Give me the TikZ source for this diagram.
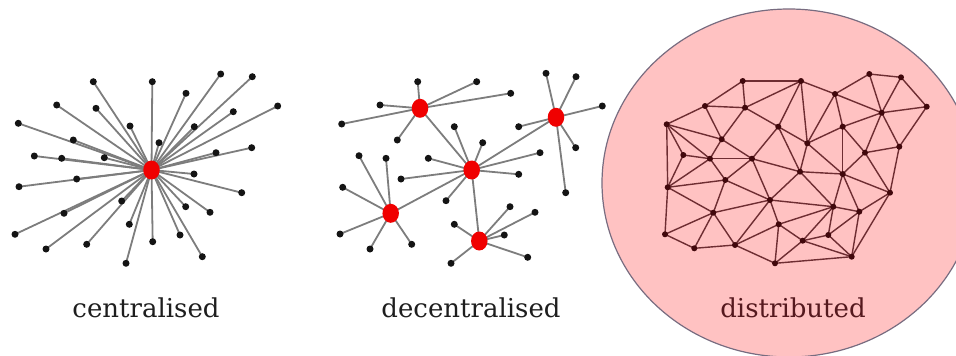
\documentclass[tikz,border=0pt]{standalone}
\usepackage{fontspec}
\setmainfont{DejaVu Serif}
\usetikzlibrary{shapes.geometric}
\pgfdeclarelayer{back}
\pgfdeclarelayer{edges}
\pgfsetlayers{back,edges,main}
\definecolor{hubred}{RGB}{240,0,0}
\definecolor{spokegray}{RGB}{125,125,125}
\definecolor{leafblack}{RGB}{20,20,20}
\definecolor{discfill}{RGB}{255,194,194}
\definecolor{discline}{RGB}{120,108,128}
\definecolor{meshnode}{RGB}{65,8,12}
\definecolor{meshline}{RGB}{110,45,50}
\definecolor{labelgray}{RGB}{30,30,30}
\definecolor{labelmaroon}{RGB}{85,25,30}
\tikzset{
  leaf/.style={circle, fill=leafblack, inner sep=0pt, minimum size=7pt},
  hub/.style={ellipse, fill=hubred, inner sep=0pt, minimum width=16.5pt, minimum height=19pt},
  spoke/.style={draw=spokegray, line width=1.8pt},
  mnode/.style={circle, fill=meshnode, inner sep=0pt, minimum size=6pt},
  medge/.style={draw=meshline, line width=1.4pt},
  caption/.style={font=\fontsize{26}{30}\selectfont, anchor=base, inner sep=0pt}
}
\begin{document}
\begin{tikzpicture}[x=1pt, y=-1pt]
\useasboundingbox (0,0) rectangle (956,356);

% ---------- centralised: one hub, every leaf tied to it ----------
\node[hub] (c0) at (151.5,170) {};
\foreach \i/\px/\py in {
  1/93.3/81.7, 2/152.3/81.7, 3/220.7/74, 4/252.3/76.7, 5/186/93.3,
  6/277.7/106, 7/233.3/111.7, 8/56.7/105, 9/96/108.3, 10/130/126,
  11/194.3/126.7, 12/18.3/123.3, 13/73.3/140, 14/159/142.7, 15/34.3/156,
  16/61.7/158.3, 17/104.3/157.7, 18/216/152.7, 19/251.7/147.7, 20/194/174,
  21/76.7/179, 22/19/186.7, 23/241.7/192.7, 24/121.7/201, 25/185.7/206.7,
  26/210/212.3, 27/64/213.3, 28/129.3/224.3, 29/15/234.3, 30/180/235,
  31/152.7/241.7, 32/86.7/244.3, 33/46/249, 34/126/263.3, 35/202.3/256.7}
  \node[leaf] (c\i) at (\px,\py) {};
\begin{pgfonlayer}{edges}
  \foreach \i in {1,...,35} \draw[spoke] (c0.center) -- (c\i.center);
\end{pgfonlayer}
\node[caption, text=labelgray] (lc) at (146,317) {centralised};

% ---------- decentralised: five hubs with their own leaves ----------
\node[hub] (ha) at (420,108.3) {};
\node[hub] (hb) at (556,117.3) {};
\node[hub] (hc) at (471.7,170) {};
\node[hub] (hd) at (390.7,213.3) {};
\node[hub] (he) at (479.3,241) {};
\foreach \h/\i/\px/\py in {
  a/1/417.7/81.7, a/2/476.7/81.7, a/3/510.7/93.3, a/4/380/105, a/5/341.7/124, a/6/397.3/140,
  b/1/546/73.3, b/2/576/76.7, b/3/602.3/106, b/4/518.7/126.7, b/5/575.7/147.7, b/6/565.7/192.7,
  c/1/454.3/126.7, c/2/482.7/142.7, c/3/428.3/158.3, c/4/540/152.7, c/5/401/179, c/6/518.7/174.3, c/7/446/200.7,
  d/1/359/155.7, d/2/386/158.3, d/3/342.7/187.3, d/4/340/234, d/5/370/249, d/6/411.7/244.3,
  e/1/510/206.7, e/2/535/212.3, e/3/454.3/224.3, e/4/504.3/235, e/5/451/263.3, e/6/527.7/257.3}
  \node[leaf] (l\h\i) at (\px,\py) {};
\begin{pgfonlayer}{edges}
  \foreach \h/\n in {a/6, b/6, c/7, d/6, e/6}
    \foreach \i in {1,...,\n} \draw[spoke] (h\h.center) -- (l\h\i.center);
  \foreach \p/\q in {a/c, b/c, c/d, c/e} \draw[spoke] (h\p.center) -- (h\q.center);
\end{pgfonlayer}
\node[caption, text=labelgray] (ld) at (471,317) {decentralised};

% ---------- distributed: a mesh on a pink disc ----------
\begin{pgfonlayer}{back}
  \node[ellipse, draw=discline, fill=discfill, line width=1.2pt,
        minimum width=374pt, minimum height=348pt, inner sep=0pt] (disc) at (789,183) {};
\end{pgfonlayer}
\foreach \i/\px/\py in {
  1/742.7/81, 2/801/81, 3/869.3/74, 4/901/77.3, 5/835/94, 6/926.7/106.7,
  7/705/106, 8/745/107.7, 9/881.7/112.7, 10/666.7/124.3, 11/778.3/126.7,
  12/842.7/126.7, 13/721.7/139.3, 14/807.3/143.3, 15/899.3/146.7, 16/683.3/155,
  17/710/158.7, 18/752/158.7, 19/865/152.7, 20/800/171.7, 21/842.7/174,
  22/725.3/180, 23/667.7/187.3, 24/890/192.7, 25/770/200, 26/833.3/206.7,
  27/859.3/211.7, 28/713.3/212.7, 29/778.7/224.3, 30/665/234.3, 31/828.3/235,
  32/802.7/240.7, 33/735/245, 34/694.3/248.3, 35/851.7/256.7, 36/775/263.3}
  \node[mnode] (m\i) at (\px,\py) {};
\begin{pgfonlayer}{edges}
  \foreach \p/\q in {
    1/2, 1/7, 1/8, 2/8, 2/11, 2/5, 2/14, 7/8, 7/10, 7/13, 8/13, 8/11,
    10/13, 10/16, 10/17, 10/23, 13/17, 13/18, 11/18, 11/14, 11/20,
    16/17, 17/18, 16/23, 17/23, 17/22, 18/22, 18/25, 18/20, 22/23,
    22/25, 22/28, 23/28, 23/30, 28/30, 30/34, 28/34, 28/33, 28/25,
    25/29, 25/33, 25/20, 25/26, 33/34, 33/29, 33/36, 29/36, 29/32,
    29/26, 36/32, 36/35, 32/26, 32/31, 32/35, 31/26, 31/27, 31/35,
    27/26, 27/21, 27/24, 27/35, 24/35, 24/21, 24/19, 24/15, 26/20,
    26/21, 20/21, 20/14, 14/21, 14/12, 14/5, 12/5, 12/9, 12/19,
    12/21, 19/21, 19/9, 19/15, 9/15, 9/5, 9/3, 9/4, 9/6, 3/5, 3/4,
    4/6, 6/15}
    \draw[medge] (m\p.center) -- (m\q.center);
\end{pgfonlayer}
\node[caption, text=labelmaroon] (lx) at (793,317) {distributed};
\end{tikzpicture}
\end{document}
